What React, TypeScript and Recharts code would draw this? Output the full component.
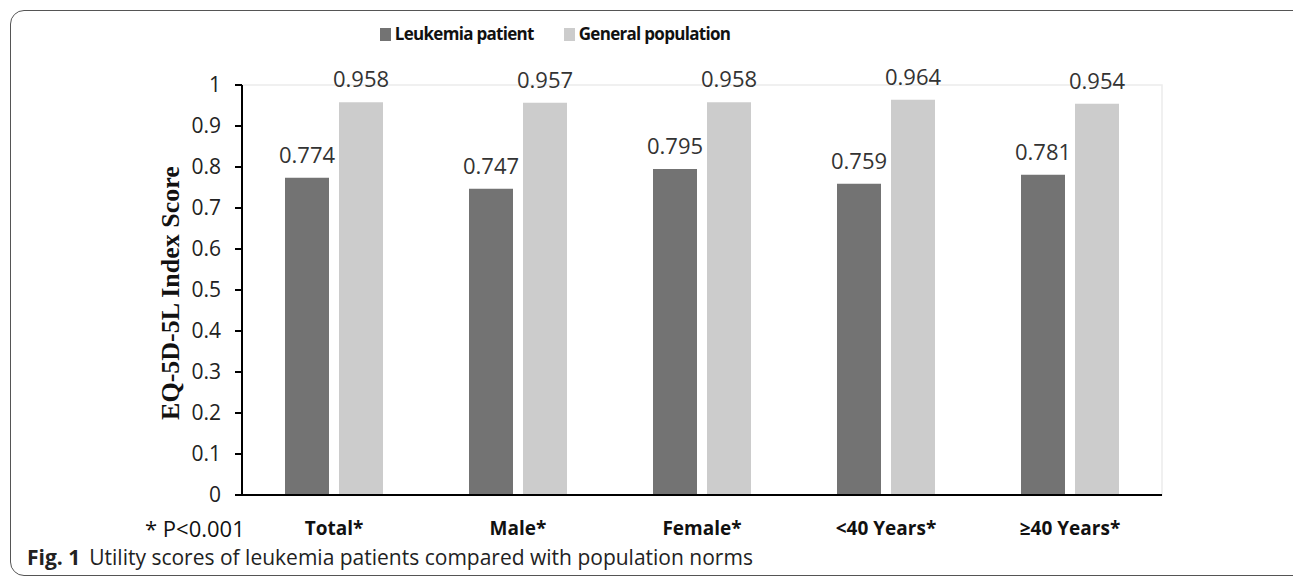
import React from "react";
import { BarChart, Bar, XAxis, YAxis, Legend, LabelList, ReferenceArea } from "recharts";

const categories = ["Total*", "Male*", "Female*", "<40 Years*", "≥40 Years*"];
const leukemiaValues = [0.774, 0.747, 0.795, 0.759, 0.781];
const generalValues = [0.958, 0.957, 0.958, 0.964, 0.954];
const yTicks = [0, 0.1, 0.2, 0.3, 0.4, 0.5, 0.6, 0.7, 0.8, 0.9, 1];

const seriesNames = { leukemia: "Leukemia patient", general: "General population" };
const DARK = "#737373";
const LIGHT = "#cccccc";

const data = categories.map((c, i) => ({
  name: c,
  leukemia: leukemiaValues[i],
  general: generalValues[i],
}));

const SANS = "'Open Sans', 'Liberation Sans', sans-serif";

const XTick = (props: any) => {
  const { x, y, payload } = props;
  return (
    <text x={x} y={y + 32} textAnchor="middle" fontFamily={SANS} fontWeight={700} fontSize={19} fill="#111">
      {payload.value}
    </text>
  );
};

const YTick = (props: any) => {
  const { x, y, payload } = props;
  return (
    <text x={x - 12} y={y + 7} textAnchor="end" fontFamily={SANS} fontSize={21} fill="#222">
      {String(payload.value)}
    </text>
  );
};

const LegendContent = () => (
  <div style={{ display: "flex", justifyContent: "center", gap: 30, fontFamily: SANS, fontWeight: 700, fontSize: 17, letterSpacing: -0.7, color: "#111", height: 22, lineHeight: "22px" }}>
    {[
      { n: seriesNames.leukemia, c: DARK },
      { n: seriesNames.general, c: LIGHT },
    ].map((it) => (
      <div key={it.n} style={{ display: "flex", alignItems: "center" }}>
        <span style={{ display: "inline-block", width: 11, height: 13, background: it.c, marginRight: 4 }} />
        <span>{it.n}</span>
      </div>
    ))}
  </div>
);

const YLabel = (props: any) => {
  const vb = props.viewBox || {};
  const cx = 170;
  const cy = (vb.y || 85) + (vb.height || 410) / 2 + 3;
  return (
    <text
      x={cx}
      y={cy}
      transform={`rotate(-90, ${cx}, ${cy})`}
      textAnchor="middle"
      dominantBaseline="central"
      fontFamily="'Liberation Serif', 'Times New Roman', serif"
      fontWeight={700}
      fontSize={26}
      fill="#111"
    >
      EQ-5D-5L Index Score
    </text>
  );
};

export default function App() {
  return (
    <div style={{ position: "absolute", left: 0, top: 0, width: 1293, height: 580, background: "#fff", overflow: "hidden" }}>
      <div
        style={{
          position: "absolute",
          left: 10,
          top: 10,
          width: 1300,
          height: 566,
          border: "1.5px solid #555",
          borderRadius: 14,
          boxSizing: "border-box",
        }}
      />
      <div style={{ position: "absolute", left: 0, top: 0 }}>
        <BarChart
          width={1293}
          height={580}
          data={data}
          margin={{ top: 63, right: 131, bottom: 45, left: 0 }}
          barSize={44}
          barGap={10}
        >
          <Legend verticalAlign="top" content={<LegendContent />} wrapperStyle={{ top: 23, left: 0, width: 1110 }} />
          <ReferenceArea y1={0} y2={1} fill="none" stroke="#ececec" strokeWidth={1.5} />
          <XAxis
            dataKey="name"
            height={40}
            axisLine={{ stroke: "#000", strokeWidth: 2 }}
            tickLine={false}
            tick={<XTick />}
            interval={0}
          />
          <YAxis
            width={242}
            domain={[0, 1]}
            ticks={yTicks}
            interval={0}
            axisLine={{ stroke: "#000", strokeWidth: 2 }}
            tickLine={{ stroke: "#000", strokeWidth: 2 }}
            tickSize={7}
            tick={<YTick />}
            label={<YLabel />}
          />
          <Bar dataKey="leukemia" name={seriesNames.leukemia} fill={DARK} isAnimationActive={false}>
            <LabelList dataKey="leukemia" position="top" offset={15} fill="#333" fontFamily={SANS} fontSize={22} />
          </Bar>
          <Bar dataKey="general" name={seriesNames.general} fill={LIGHT} isAnimationActive={false}>
            <LabelList dataKey="general" position="top" offset={15} fill="#333" fontFamily={SANS} fontSize={22} />
          </Bar>
        </BarChart>
      </div>
      <div style={{ position: "absolute", left: 145, top: 513, fontFamily: SANS, fontSize: 22, color: "#111", whiteSpace: "nowrap" }}>
        * P&lt;0.001
      </div>
      <div style={{ position: "absolute", left: 27, top: 543, fontFamily: SANS, fontSize: 21, color: "#222", whiteSpace: "nowrap" }}>
        <span style={{ fontWeight: 700 }}>Fig. 1</span>
        <span style={{ marginLeft: 9 }}>Utility scores of leukemia patients compared with population norms</span>
      </div>
    </div>
  );
}
